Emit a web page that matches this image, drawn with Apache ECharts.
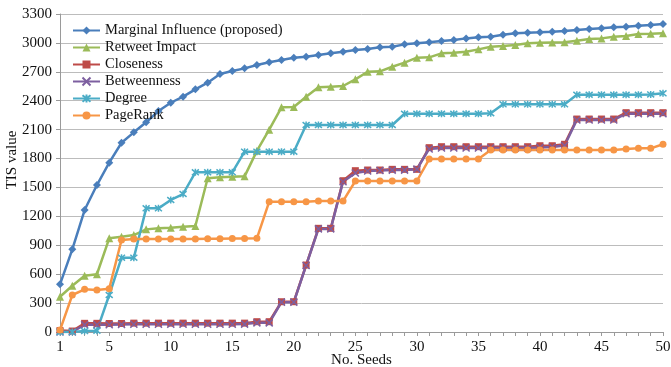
<!DOCTYPE html>
<html>
<head>
<meta charset="utf-8">
<script src="https://cdn.jsdelivr.net/npm/echarts@6/dist/echarts.min.js"></script>
<style>
html,body{margin:0;padding:0;background:#fff;}
#chart{width:671px;height:367px;}
</style>
</head>
<body>
<div id="chart"></div>
<script>
var seeds = [1,2,3,4,5,6,7,8,9,10,11,12,13,14,15,16,17,18,19,20,21,22,23,24,25,26,27,28,29,30,31,32,33,34,35,36,37,38,39,40,41,42,43,44,45,46,47,48,49,50];
var yTicks = [0,300,600,900,1200,1500,1800,2100,2400,2700,3000,3300];

var marginalInfluence = [495,858,1266,1525,1757,1964,2072,2176,2293,2379,2442,2518,2587,2677,2708,2736,2771,2799,2822,2847,2857,2874,2892,2909,2926,2937,2954,2961,2985,2996,3006,3020,3030,3047,3058,3065,3085,3100,3106,3110,3116,3124,3134,3144,3151,3162,3168,3179,3186,3196];
var retweetImpact = [366,480,584,599,972,989,1006,1065,1076,1082,1093,1100,1595,1605,1610,1615,1880,2100,2332,2335,2442,2539,2546,2553,2622,2701,2705,2753,2795,2847,2850,2892,2899,2909,2933,2961,2968,2978,2996,3002,3004,3006,3023,3040,3047,3065,3071,3092,3094,3099];
var closeness = [15,10,90,90,88,88,92,92,92,92,92,92,92,92,92,92,107,107,314,314,695,1076,1076,1570,1674,1681,1681,1688,1688,1688,1913,1923,1923,1923,1923,1923,1923,1923,1923,1933,1933,1948,2210,2210,2210,2210,2276,2276,2276,2276];
var betweenness = [0,0,75,75,75,78,80,80,80,80,80,80,80,80,80,82,95,95,310,310,690,1070,1070,1560,1650,1670,1675,1680,1680,1690,1900,1910,1910,1910,1910,1910,1910,1910,1910,1915,1920,1935,2200,2200,2200,2200,2265,2265,2265,2265];
var degree = [0,0,10,14,384,771,771,1283,1283,1370,1432,1657,1657,1657,1657,1871,1871,1871,1871,1871,2148,2148,2148,2148,2148,2148,2148,2148,2265,2265,2265,2265,2265,2265,2265,2270,2363,2363,2363,2363,2363,2363,2462,2462,2462,2462,2462,2462,2465,2477];
var pageRank = [20,384,443,436,450,955,965,965,965,965,965,965,968,968,970,970,972,1352,1352,1352,1352,1359,1359,1359,1567,1567,1567,1567,1567,1567,1795,1795,1795,1795,1795,1889,1889,1889,1889,1889,1889,1889,1889,1889,1889,1889,1899,1906,1906,1948];

var serif = '"Liberation Serif", "DejaVu Serif", serif';
var xSym = 'path://M0,0L10,10M10,0L0,10';
var starSym = 'path://M0,0L10,10M10,0L0,10M5,-1L5,11';

function mk(name, data, color, symbol, size, extra) {
  var s = {
    name: name, type: 'line', data: data,
    symbol: symbol, symbolSize: size, showSymbol: true, showAllSymbol: true,
    lineStyle: {color: color, width: 2.5},
    itemStyle: {color: color},
    animation: false
  };
  if (extra) { s.itemStyle.borderColor = color; s.itemStyle.borderWidth = 1.5; }
  return s;
}

var chart = echarts.init(document.getElementById('chart'), null, {renderer: 'canvas'});
chart.setOption({
  animation: false,
  backgroundColor: '#fff',
  grid: {left: 60, right: 8, top: 14, bottom: 35, containLabel: false, outerBoundsMode: 'none'},
  legend: {
    orient: 'vertical', left: 67, top: 18,
    itemWidth: 27, itemHeight: 10, itemGap: 2,
    textStyle: {fontFamily: serif, fontSize: 14.5, color: '#111', lineHeight: 15},
    backgroundColor: 'transparent'
  },
  xAxis: {
    type: 'category', data: seeds, boundaryGap: false,
    name: 'No. Seeds', nameLocation: 'middle', nameGap: 21, nameMoveOverlap: false,
    nameTextStyle: {fontFamily: serif, fontSize: 15, color: '#111'},
    axisLine: {lineStyle: {color: '#9a9a9a', width: 1}},
    axisTick: {show: true, interval: 0, length: 4, lineStyle: {color: '#9a9a9a'}},
    axisLabel: {
      interval: function (idx, val) { var v = +val; return v === 1 || v % 5 === 0; },
      fontFamily: serif, fontSize: 15, color: '#111', margin: 8
    },
    splitLine: {show: false}
  },
  yAxis: {
    type: 'value', min: 0, max: 3300, interval: 300,
    name: 'TIS value', nameLocation: 'middle', nameGap: 40, nameRotate: 90, nameMoveOverlap: false,
    nameTextStyle: {fontFamily: serif, fontSize: 15, color: '#111', padding: [0, 0, 0, 26]},
    axisLine: {show: true, lineStyle: {color: '#9a9a9a', width: 1}},
    axisTick: {show: true, length: 4, lineStyle: {color: '#9a9a9a'}},
    axisLabel: {fontFamily: serif, fontSize: 15, color: '#111', margin: 8,
      formatter: function (v) { return yTicks.indexOf(v) >= 0 ? String(v) : ''; }},
    splitLine: {show: true, lineStyle: {color: '#bcbcbc', width: 1}}
  },
  series: [
    mk('Marginal Influence (proposed)', marginalInfluence, '#4A7EBB', 'diamond', 8),
    mk('Retweet Impact', retweetImpact, '#9BBB59', 'triangle', 8),
    mk('Closeness', closeness, '#BE4B48', 'rect', 7),
    mk('Betweenness', betweenness, '#7D5FA0', xSym, 7, true),
    mk('Degree', degree, '#4BACC6', starSym, 7, true),
    mk('PageRank', pageRank, '#F79646', 'circle', 7)
  ]
});
</script>
</body>
</html>
